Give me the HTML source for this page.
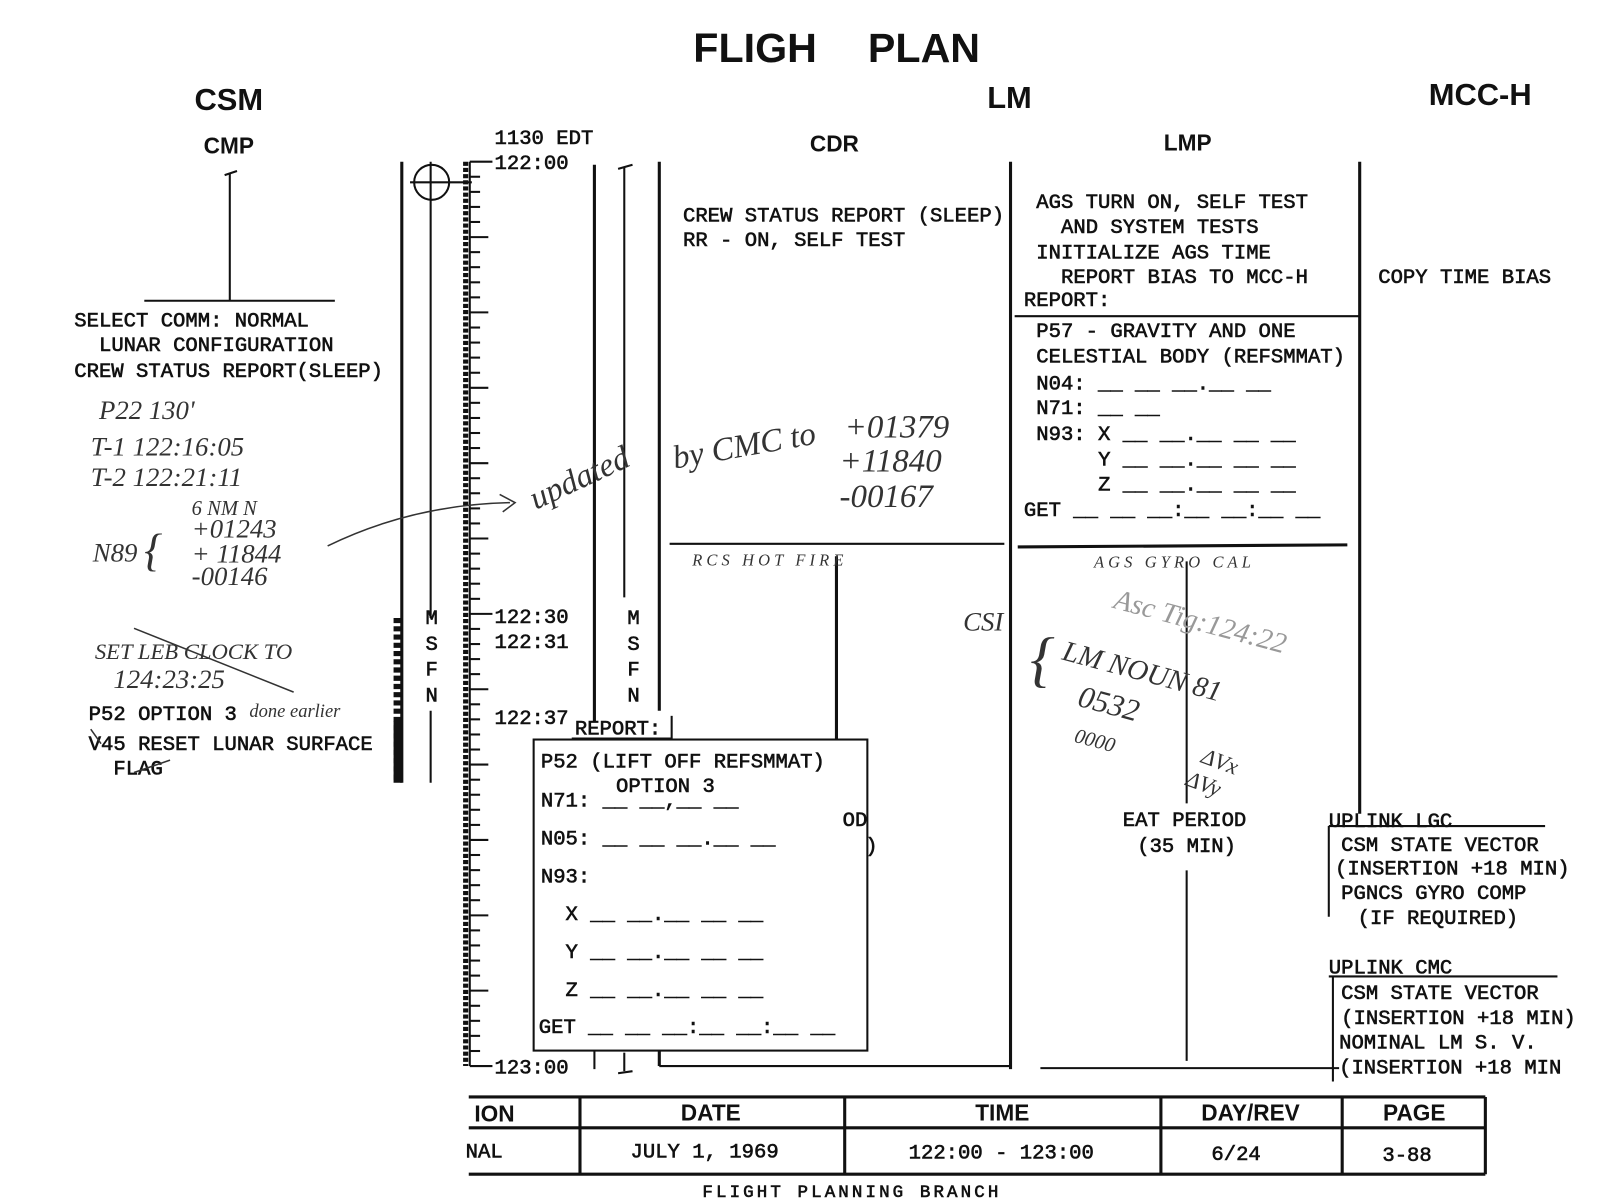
<!DOCTYPE html>
<html><head><meta charset="utf-8"><style>
html,body{margin:0;padding:0;background:#fff;}
svg{display:block;}
.t{font-family:"Liberation Mono",monospace;font-size:20px;fill:#111;stroke:#111;stroke-width:0.6;}
.b{font-family:"Liberation Sans",sans-serif;font-weight:bold;fill:#111;}
.h{font-family:"Liberation Serif",serif;font-style:italic;fill:#333;}
</style></head><body>
<svg width="1607" height="1202" viewBox="0 0 1560 1167" xmlns="http://www.w3.org/2000/svg">
<rect width="1560" height="1167" fill="#fff"/>
<g class="b" text-anchor="middle">
<text x="733" y="60" font-size="40">FLIGH</text>
<text x="897" y="60" font-size="40">PLAN</text>
<text x="222" y="107" font-size="30">CSM</text>
<text x="980" y="105" font-size="30">LM</text>
<text x="1437" y="102" font-size="30">MCC-H</text>
<text x="222" y="149" font-size="22">CMP</text>
<text x="810" y="147" font-size="22">CDR</text>
<text x="1153" y="146" font-size="22">LMP</text>
</g>
<g stroke="#111" fill="none">
<line x1="223" y1="168" x2="223" y2="292" stroke-width="2"/>
<line x1="218" y1="170" x2="230" y2="166" stroke-width="2"/>
<line x1="140" y1="292" x2="325" y2="292" stroke-width="2"/>
<line x1="390" y1="157" x2="390" y2="760" stroke-width="3"/>
<line x1="418" y1="157" x2="418" y2="600" stroke-width="2"/>
<line x1="418" y1="690" x2="418" y2="760" stroke-width="2"/>
<circle cx="419" cy="177" r="17" stroke-width="2"/>
<line x1="398" y1="177" x2="458" y2="177" stroke-width="2"/>
<line x1="386" y1="600" x2="386" y2="760" stroke-width="8" stroke-dasharray="5,3"/>
<line x1="386" y1="700" x2="386" y2="760" stroke-width="8"/>
<line x1="452" y1="157" x2="452" y2="1035" stroke-width="5" stroke-dasharray="4,2"/>
<line x1="456" y1="157" x2="456" y2="1035" stroke-width="2"/>
<line x1="577" y1="160" x2="577" y2="700" stroke-width="3"/>
<line x1="606" y1="162" x2="606" y2="580" stroke-width="2"/>
<line x1="600" y1="164" x2="614" y2="160" stroke-width="2"/>
<line x1="640" y1="157" x2="640" y2="690" stroke-width="3"/>
<line x1="640" y1="1020" x2="640" y2="1035" stroke-width="3"/>
<line x1="640" y1="1035" x2="980" y2="1035" stroke-width="2"/>
<line x1="981" y1="157" x2="981" y2="1038" stroke-width="3"/>
<line x1="1320" y1="157" x2="1320" y2="790" stroke-width="3"/>
<line x1="985" y1="307" x2="1320" y2="307" stroke-width="2"/>
<line x1="650" y1="528" x2="975" y2="528" stroke-width="2"/>
<line x1="988" y1="531" x2="1308" y2="529" stroke-width="3"/>
<line x1="812" y1="540" x2="812" y2="780" stroke-width="3"/>
<line x1="1152" y1="545" x2="1152" y2="780" stroke-width="2"/>
<line x1="1152" y1="845" x2="1152" y2="1030" stroke-width="2"/>
<line x1="1010" y1="1037" x2="1300" y2="1037" stroke-width="2"/>
<line x1="577" y1="1020" x2="577" y2="1038" stroke-width="2"/>
<line x1="606" y1="1022" x2="606" y2="1040" stroke-width="2"/>
<line x1="600" y1="1042" x2="614" y2="1040" stroke-width="2"/>
<line x1="1290" y1="802" x2="1500" y2="802" stroke-width="2"/>
<line x1="1290" y1="802" x2="1290" y2="890" stroke-width="2"/>
<line x1="1290" y1="948" x2="1512" y2="948" stroke-width="2"/>
<line x1="1294" y1="948" x2="1294" y2="1050" stroke-width="2"/>
<rect x="518" y="718" width="324" height="302" stroke-width="2" fill="#fff"/>
<line x1="555" y1="717" x2="652" y2="717" stroke-width="2"/>
<line x1="652" y1="695" x2="652" y2="717" stroke-width="2"/>
</g>
<g stroke="#111" stroke-width="2">
<line x1="456" y1="157" x2="478" y2="157"/><line x1="456" y1="171.6" x2="466" y2="171.6"/><line x1="456" y1="186.3" x2="466" y2="186.3"/><line x1="456" y1="200.9" x2="466" y2="200.9"/><line x1="456" y1="215.5" x2="466" y2="215.5"/><line x1="456" y1="230.2" x2="474" y2="230.2"/><line x1="456" y1="244.8" x2="466" y2="244.8"/><line x1="456" y1="259.4" x2="466" y2="259.4"/><line x1="456" y1="274.1" x2="466" y2="274.1"/><line x1="456" y1="288.7" x2="466" y2="288.7"/><line x1="456" y1="303.3" x2="474" y2="303.3"/><line x1="456" y1="318" x2="466" y2="318"/><line x1="456" y1="332.6" x2="466" y2="332.6"/><line x1="456" y1="347.2" x2="466" y2="347.2"/><line x1="456" y1="361.9" x2="466" y2="361.9"/><line x1="456" y1="376.5" x2="474" y2="376.5"/><line x1="456" y1="391.1" x2="466" y2="391.1"/><line x1="456" y1="405.8" x2="466" y2="405.8"/><line x1="456" y1="420.4" x2="466" y2="420.4"/><line x1="456" y1="435" x2="466" y2="435"/><line x1="456" y1="449.7" x2="474" y2="449.7"/><line x1="456" y1="464.3" x2="466" y2="464.3"/><line x1="456" y1="478.9" x2="466" y2="478.9"/><line x1="456" y1="493.6" x2="466" y2="493.6"/><line x1="456" y1="508.2" x2="466" y2="508.2"/><line x1="456" y1="522.8" x2="474" y2="522.8"/><line x1="456" y1="537.5" x2="466" y2="537.5"/><line x1="456" y1="552.1" x2="466" y2="552.1"/><line x1="456" y1="566.7" x2="466" y2="566.7"/><line x1="456" y1="581.4" x2="466" y2="581.4"/><line x1="456" y1="596" x2="478" y2="596"/><line x1="456" y1="610.6" x2="466" y2="610.6"/><line x1="456" y1="625.3" x2="466" y2="625.3"/><line x1="456" y1="639.9" x2="466" y2="639.9"/><line x1="456" y1="654.5" x2="466" y2="654.5"/><line x1="456" y1="669.2" x2="474" y2="669.2"/><line x1="456" y1="683.8" x2="466" y2="683.8"/><line x1="456" y1="698.4" x2="466" y2="698.4"/><line x1="456" y1="713.1" x2="466" y2="713.1"/><line x1="456" y1="727.7" x2="466" y2="727.7"/><line x1="456" y1="742.3" x2="474" y2="742.3"/><line x1="456" y1="757" x2="466" y2="757"/><line x1="456" y1="771.6" x2="466" y2="771.6"/><line x1="456" y1="786.2" x2="466" y2="786.2"/><line x1="456" y1="800.9" x2="466" y2="800.9"/><line x1="456" y1="815.5" x2="474" y2="815.5"/><line x1="456" y1="830.1" x2="466" y2="830.1"/><line x1="456" y1="844.8" x2="466" y2="844.8"/><line x1="456" y1="859.4" x2="466" y2="859.4"/><line x1="456" y1="874" x2="466" y2="874"/><line x1="456" y1="888.7" x2="474" y2="888.7"/><line x1="456" y1="903.3" x2="466" y2="903.3"/><line x1="456" y1="917.9" x2="466" y2="917.9"/><line x1="456" y1="932.6" x2="466" y2="932.6"/><line x1="456" y1="947.2" x2="466" y2="947.2"/><line x1="456" y1="961.8" x2="474" y2="961.8"/><line x1="456" y1="976.5" x2="466" y2="976.5"/><line x1="456" y1="991.1" x2="466" y2="991.1"/><line x1="456" y1="1005.7" x2="466" y2="1005.7"/><line x1="456" y1="1020.4" x2="466" y2="1020.4"/><line x1="456" y1="1035" x2="478" y2="1035"/>
</g>
<g class="t">
<text x="480" y="140">1130 EDT</text>
<text x="480" y="164">122:00</text>
<text x="480" y="605">122:30</text>
<text x="480" y="629">122:31</text>
<text x="480" y="703">122:37</text>
<text x="480" y="1042">123:00</text>
<text x="413" y="606">M</text><text x="413" y="631">S</text><text x="413" y="656">F</text><text x="413" y="681">N</text>
<text x="609" y="606">M</text><text x="609" y="631">S</text><text x="609" y="656">F</text><text x="609" y="681">N</text>
<text x="72" y="317">SELECT COMM:  NORMAL</text>
<text x="96" y="341">LUNAR CONFIGURATION</text>
<text x="72" y="366">CREW STATUS REPORT(SLEEP)</text>
<text x="86" y="699">P52 OPTION 3</text>
<text x="86" y="728">V45 RESET LUNAR SURFACE</text>
<text x="110" y="752">FLAG</text>
<text x="663" y="215">CREW STATUS REPORT (SLEEP)</text>
<text x="663" y="239">RR - ON, SELF TEST</text>
<text x="1006" y="202">AGS TURN ON, SELF TEST</text>
<text x="1030" y="226">AND SYSTEM TESTS</text>
<text x="1006" y="251">INITIALIZE AGS TIME</text>
<text x="1030" y="275">REPORT BIAS TO MCC-H</text>
<text x="994" y="297">REPORT:</text>
<text x="1338" y="275">COPY TIME BIAS</text>
<text x="1006" y="327">P57 - GRAVITY AND ONE</text>
<text x="1006" y="352">CELESTIAL BODY (REFSMMAT)</text>
<text x="1006" y="378">N04: __ __ __.__ __</text>
<text x="1006" y="402">N71: __ __</text>
<text x="1006" y="427">N93: X __ __.__ __ __</text>
<text x="1066" y="452">Y __ __.__ __ __</text>
<text x="1066" y="476">Z __ __.__ __ __</text>
<text x="994" y="501">GET  __ __ __:__ __:__ __</text>
<text x="1090" y="802">EAT PERIOD</text>
<text x="1104" y="827">(35 MIN)</text>
<text x="818" y="802">OD</text>
<text x="840" y="827">)</text>
<text x="558" y="713">REPORT:</text>
<text x="525" y="745">P52 (LIFT OFF REFSMMAT)</text>
<text x="598" y="769">OPTION 3</text>
<text x="525" y="783">N71: __ __,__ __</text>
<text x="525" y="820">N05: __ __ __.__ __</text>
<text x="525" y="857">N93:</text>
<text x="549" y="893">X   __ __.__ __ __</text>
<text x="549" y="930">Y   __ __.__ __ __</text>
<text x="549" y="967">Z   __ __.__ __ __</text>
<text x="523" y="1003">GET  __ __ __:__ __:__ __</text>
<text x="1290" y="803">UPLINK LGC</text>
<text x="1302" y="826">CSM STATE VECTOR</text>
<text x="1296" y="849">(INSERTION +18 MIN)</text>
<text x="1302" y="873">PGNCS GYRO COMP</text>
<text x="1318" y="897">(IF REQUIRED)</text>
<text x="1290" y="945">UPLINK CMC</text>
<text x="1302" y="970">CSM STATE VECTOR</text>
<text x="1302" y="994">(INSERTION +18 MIN)</text>
<text x="1300" y="1018">NOMINAL LM S. V.</text>
<text x="1300" y="1042">(INSERTION +18 MIN</text>
</g>
<g class="h" font-size="16" fill="#222">
<text x="672" y="549" letter-spacing="4">RCS  HOT  FIRE</text>
<text x="1062" y="551" letter-spacing="4">AGS GYRO CAL</text>
</g>
<g class="h" font-size="26">
<text x="96" y="407">P22    130'</text>
<text x="88" y="442">T-1  122:16:05</text>
<text x="88" y="472">T-2  122:21:11</text>
<text x="186" y="500" font-size="20">6 NM N</text>
<text x="90" y="545">N89</text>
<text x="140" y="549" font-size="44">{</text>
<text x="186" y="522">+01243</text>
<text x="186" y="546">+ 11844</text>
<text x="186" y="568">-00146</text>
<text x="92" y="640" font-size="22">SET LEB CLOCK TO</text>
<text x="110" y="668">124:23:25</text>
<text x="242" y="696" font-size="18">done earlier</text>
<text x="520" y="495" font-size="32" transform="rotate(-25 520 495)">updated</text>
<text x="655" y="455" font-size="32" transform="rotate(-10 655 455)">by CMC to</text>
<text x="820" y="425" font-size="32">+01379</text>
<text x="815" y="458" font-size="32">+11840</text>
<text x="815" y="492" font-size="32">-00167</text>
<text x="935" y="612" font-size="26">CSI</text>
<text x="1000" y="660" font-size="60">{</text>
<text x="1030" y="640" font-size="28" transform="rotate(15 1030 640)">LM NOUN 81</text>
<text x="1045" y="685" font-size="30" transform="rotate(15 1045 685)">0532</text>
<text x="1042" y="720" font-size="20" transform="rotate(15 1042 720)">0000</text>
<text x="1080" y="590" font-size="28" fill="#999" transform="rotate(15 1080 590)">Asc Tig:124:22</text>
<text x="1165" y="740" font-size="22" transform="rotate(20 1165 740)">ΔVx</text>
<text x="1150" y="762" font-size="22" transform="rotate(20 1150 762)">ΔVy</text>
</g>
<g stroke="#333" fill="none" stroke-width="1.5">
<path d="M318 530 Q400 490 495 488"/>
<path d="M485 480 L500 488 L488 497"/>
<line x1="130" y1="610" x2="285" y2="672"/>
<line x1="88" y1="708" x2="98" y2="722"/>
<line x1="130" y1="750" x2="165" y2="738"/>
</g>
<g stroke="#111" fill="none" stroke-width="3">
<line x1="455" y1="1065" x2="1442" y2="1065"/>
<line x1="455" y1="1095" x2="1442" y2="1095"/>
<line x1="455" y1="1140" x2="1442" y2="1140"/>
<line x1="563" y1="1065" x2="563" y2="1140"/>
<line x1="820" y1="1065" x2="820" y2="1140"/>
<line x1="1127" y1="1065" x2="1127" y2="1140"/>
<line x1="1303" y1="1065" x2="1303" y2="1140"/>
<line x1="1442" y1="1065" x2="1442" y2="1140"/>
</g>
<g class="b" font-size="22" text-anchor="middle">
<text x="480" y="1089">ION</text>
<text x="690" y="1088">DATE</text>
<text x="973" y="1088">TIME</text>
<text x="1214" y="1088">DAY/REV</text>
<text x="1373" y="1088">PAGE</text>
</g>
<g class="t" font-size="20" text-anchor="middle">
<text x="470" y="1124">NAL</text>
<text x="684" y="1124">JULY 1, 1969</text>
<text x="972" y="1125">122:00 - 123:00</text>
<text x="1200" y="1126">6/24</text>
<text x="1366" y="1127">3-88</text>
<text x="827" y="1162" letter-spacing="3" font-size="17">FLIGHT PLANNING BRANCH</text>
</g>
</svg>
</body></html>
